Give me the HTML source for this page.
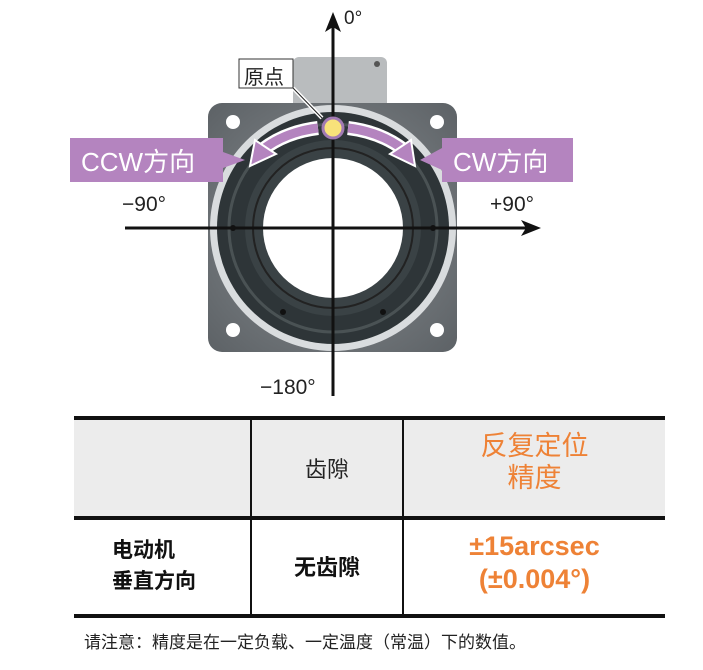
<!DOCTYPE html>
<html><head><meta charset="utf-8"><style>
body{margin:0;width:703px;height:670px;background:#fff;position:relative;overflow:hidden;font-family:"Liberation Sans","Noto Sans CJK SC",sans-serif}
.t{position:absolute;white-space:nowrap}
</style></head><body>
<svg width="703" height="410" style="position:absolute;left:0;top:0">
<defs>
<radialGradient id="fl" cx="50%" cy="50%" r="70%"><stop offset="0" stop-color="#8a8f93"/><stop offset="1" stop-color="#5d6266"/></radialGradient>
</defs>
<rect x="293" y="57" width="94" height="60" rx="6" fill="#b9bcbe"/>
<circle cx="377" cy="64" r="3" fill="#555"/>
<rect x="208" y="103" width="249" height="249" rx="14" fill="url(#fl)"/>
<circle cx="233" cy="122" r="7" fill="#fff"/><circle cx="437" cy="122" r="7" fill="#fff"/>
<circle cx="233" cy="330" r="7" fill="#fff"/><circle cx="437" cy="330" r="7" fill="#fff"/>
<circle cx="333" cy="228" r="123" fill="#d9dcde"/>
<circle cx="333" cy="228" r="116" fill="#2e3538"/>
<circle cx="333" cy="228" r="104" fill="none" stroke="#4a5254" stroke-width="3"/>
<circle cx="333" cy="228" r="88" fill="#3a4245"/>
<circle cx="333" cy="228" r="80" fill="none" stroke="#222" stroke-width="2"/>
<circle cx="333" cy="228" r="70" fill="#fff"/>
<circle cx="283" cy="312" r="3" fill="#111"/><circle cx="383" cy="312" r="3" fill="#111"/>
<circle cx="233" cy="228" r="3" fill="#111"/><circle cx="433" cy="228" r="3" fill="#111"/>
<path d="M318 128 Q285 132 262 150" stroke="#fff" stroke-width="14" fill="none"/>
<path d="M318 128 Q285 132 262 150" stroke="#b484bf" stroke-width="9" fill="none"/>
<polygon points="250,166 255,140 276,154" fill="#b484bf" stroke="#fff" stroke-width="2"/>
<path d="M348 128 Q381 132 404 150" stroke="#fff" stroke-width="14" fill="none"/>
<path d="M348 128 Q381 132 404 150" stroke="#b484bf" stroke-width="9" fill="none"/>
<polygon points="415,166 411,140 390,154" fill="#b484bf" stroke="#fff" stroke-width="2"/>
<polygon points="223,138 223,152 245,160 223,168" fill="#b484bf"/>
<rect x="70" y="138" width="153" height="44" fill="#b484bf"/>
<polygon points="442,148 420,160 442,170" fill="#b484bf"/>
<rect x="442" y="138" width="131" height="44" fill="#b484bf"/>
<line x1="333" y1="22" x2="333" y2="396" stroke="#111" stroke-width="3"/>
<polygon points="333,12 325,32 333,27 341,32" fill="#111"/>
<line x1="125" y1="228" x2="535" y2="228" stroke="#111" stroke-width="3"/>
<polygon points="541,228 521,220 526,228 521,236" fill="#111"/>
<line x1="293" y1="88" x2="322" y2="118" stroke="#fff" stroke-width="4"/>
<line x1="293" y1="88" x2="322" y2="118" stroke="#222" stroke-width="1"/>
<rect x="239" y="59" width="54" height="29" fill="#fff" stroke="#333" stroke-width="1"/>
<circle cx="333" cy="128" r="10" fill="#f8e27a" stroke="#a27ab3" stroke-width="3"/>
</svg>
<div class="t" style="left:244px;top:61px;font-size:20px;color:#222">原点</div>
<div class="t" style="left:81px;top:142px;font-size:26px;color:#fff">CCW方向</div>
<div class="t" style="left:453px;top:142px;font-size:26px;color:#fff">CW方向</div>
<div class="t" style="left:344px;top:8px;font-size:19px;color:#222">0°</div>
<div class="t" style="left:122px;top:193px;font-size:21px;color:#222">−90°</div>
<div class="t" style="left:490px;top:193px;font-size:21px;color:#222">+90°</div>
<div class="t" style="left:260px;top:376px;font-size:21px;color:#222">−180°</div>

<div style="position:absolute;left:74px;top:418px;width:591px;height:100px;background:#ececec"></div>
<div style="position:absolute;left:74px;top:416px;width:591px;height:4px;background:#111"></div>
<div style="position:absolute;left:74px;top:516px;width:591px;height:4px;background:#111"></div>
<div style="position:absolute;left:74px;top:614px;width:591px;height:4px;background:#111"></div>
<div style="position:absolute;left:250px;top:418px;width:2px;height:198px;background:#111"></div>
<div style="position:absolute;left:402px;top:418px;width:2px;height:198px;background:#111"></div>
<div class="t" style="left:252px;top:452px;width:150px;text-align:center;font-size:22px;color:#222">齿隙</div>
<div class="t" style="left:404px;top:430px;width:261px;text-align:center;font-size:27px;line-height:32px;color:#ee8236">反复定位<br>精度</div>
<div class="t" style="left:112px;top:535px;font-size:21px;line-height:31px;font-weight:bold;color:#111">电动机<br>垂直方向</div>
<div class="t" style="left:252px;top:550px;width:150px;text-align:center;font-size:22px;font-weight:bold;color:#111">无齿隙</div>
<div class="t" style="left:404px;top:530px;width:261px;text-align:center;font-size:27px;line-height:33px;font-weight:bold;color:#ee8236">±15arcsec<br>(±0.004°)</div>
<div class="t" style="left:84px;top:628px;font-size:17px;color:#222">请注意：精度是在一定负载、一定温度（常温）下的数值。</div>
</body></html>
